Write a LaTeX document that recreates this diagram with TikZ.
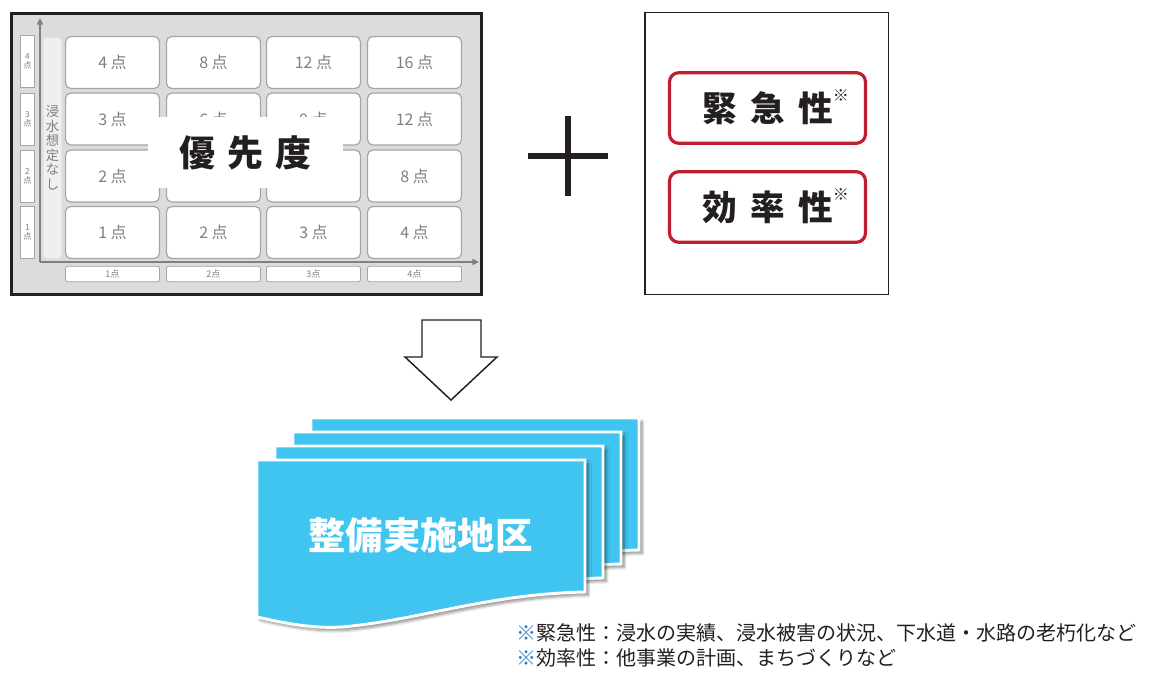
\documentclass[tikz,border=0pt]{standalone}
\usepackage{fontspec}
\setmainfont{Noto Sans CJK JP}
\usetikzlibrary{shadows,shadows.blur,arrows.meta}
\definecolor{frameg}{HTML}{DCDCDD}
\definecolor{cellb}{HTML}{A5A5A7}
\definecolor{cellt}{HTML}{7F7F80}
\definecolor{ink}{HTML}{231F20}
\definecolor{redb}{HTML}{BE1E2D}
\definecolor{sky}{HTML}{40C4F0}
\definecolor{noteblue}{HTML}{2B7BC0}
\definecolor{stripc}{HTML}{EFEFF0}
\begin{document}
\begin{tikzpicture}[x=0.75pt,y=-0.75pt,
  cell/.style={draw=cellb, line width=0.9pt, fill=white, rounded corners=4pt,
    minimum width=70.5pt, minimum height=39pt, inner sep=0pt, text=cellt,
    font=\fontsize{12}{12}\selectfont},
  ylab/.style={draw=cellb, line width=0.6pt, fill=white, minimum width=11pt,
    minimum height=39pt, inner sep=0pt, text=cellt, align=center,
    font=\fontsize{6.2}{6.6}\selectfont},
  xlab/.style={draw=cellb, line width=0.6pt, fill=white, rounded corners=1.5pt,
    minimum width=70.5pt, minimum height=11.5pt, inner sep=0pt, text=cellt,
    font=\fontsize{6.8}{7}\selectfont},
  axisline/.style={draw=black!50, line width=1.1pt, -{Triangle[length=5pt,width=4.5pt]}},
  stripbox/.style={draw=black!12, line width=0.6pt, fill=stripc, rounded corners=3pt,
    minimum width=14pt, minimum height=166pt, inner sep=0pt, text=cellt, align=center,
    font=\fontsize{10}{10.9}\selectfont},
  redbox/.style={draw=redb, line width=2.4pt, rounded corners=7pt, fill=white,
    minimum width=147pt, minimum height=53pt, inner sep=0pt, text=ink,
    font=\fontsize{26}{26}\selectfont\bfseries},
  sheet/.style={fill=sky, draw=white, line width=2.2pt,
    blur shadow={shadow xshift=2.5pt, shadow yshift=-2.5pt, shadow blur steps=6, shadow opacity=45}},
  note/.style={anchor=west, inner sep=0pt, text=ink, font=\fontsize{15}{15}\selectfont}
]
\useasboundingbox (0,0) rectangle (1149,673);

% ---- priority matrix frame ----
\draw[line width=2.6pt, ink, fill=frameg] (11.5,13.5) rectangle (481.5,294.5);

\coordinate (o) at (40,262);
\coordinate (ytip) at (40,18);
\coordinate (xtip) at (479,262);
\draw[axisline] (o) -- (ytip);
\draw[axisline] (o) -- (xtip);

\node[stripbox] (nashi) at (52.5,148) {浸\\水\\想\\定\\な\\し};

% y-axis labels
\node[ylab] (y4) at (27.5,61.5) {4\\点};
\node[ylab] (y3) at (27.5,119.5) {3\\点};
\node[ylab] (y2) at (27.5,176) {2\\点};
\node[ylab] (y1) at (27.5,232) {1\\点};

% x-axis labels
\node[xlab] (x1) at (112.5,274) {1点};
\node[xlab] (x2) at (213.5,274) {2点};
\node[xlab] (x3) at (313.5,274) {3点};
\node[xlab] (x4) at (414.5,274) {4点};

% cells
\node[cell] (c14) at (112.5,62.5) {4 点};
\node[cell] (c24) at (213.5,62.5) {8 点};
\node[cell] (c34) at (313.5,62.5) {12 点};
\node[cell] (c44) at (414.5,62.5) {16 点};
\node[cell] (c13) at (112.5,119) {3 点};
\node[cell] (c23) at (213.5,119) {6 点};
\node[cell] (c33) at (313.5,119) {9 点};
\node[cell] (c43) at (414.5,119) {12 点};
\node[cell] (c12) at (112.5,176) {2 点};
\node[cell] (c22) at (213.5,176) {};
\node[cell] (c32) at (313.5,176) {};
\node[cell] (c42) at (414.5,176) {8 点};
\node[cell] (c11) at (112.5,232.5) {1 点};
\node[cell] (c21) at (213.5,232.5) {2 点};
\node[cell] (c31) at (313.5,232.5) {3 点};
\node[cell] (c41) at (414.5,232.5) {4 点};

% overlay title
\node[fill=white, minimum width=146.25pt, minimum height=53.25pt, inner sep=0pt,
  text=ink, font=\fontsize{27}{27}\selectfont\bfseries] (yusen) at (245.5,152.5)
  {優\hspace{9pt}先\hspace{9pt}度};

% ---- plus sign ----
\coordinate (pl) at (528,156);
\coordinate (pr) at (608,156);
\coordinate (pt) at (568,116);
\coordinate (pb) at (568,196);
\draw[line width=4.5pt, ink] (pl) -- (pr);
\draw[line width=4.5pt, ink] (pt) -- (pb);

% ---- right box ----
\draw[line width=1.3pt, ink] (645,12.5) rectangle (888.5,294.5);
\node[redbox] (kinkyu) at (767.5,108)
  {緊\hspace{10pt}急\hspace{10pt}性\rlap{\smash{\raisebox{15pt}{\fontsize{12}{12}\selectfont\mdseries ※}}}};
\node[redbox] (koritsu) at (767.5,207)
  {効\hspace{10pt}率\hspace{10pt}性\rlap{\smash{\raisebox{15pt}{\fontsize{12}{12}\selectfont\mdseries ※}}}};

% ---- down arrow ----
\draw[line width=1.1pt, ink, fill=white, line join=miter]
  (422,320) -- (481,320) -- (481,357) -- (497,357) -- (451,400) -- (405,357) -- (422,357) -- cycle;

% ---- document stack ----
\foreach \dx/\dy in {54/-42, 36/-28, 18/-14, 0/0}{
  \begin{scope}[shift={(\dx,\dy)}]
    \path[sheet] (257,460) -- (585,460) -- (585,592)
      .. controls (487,594) and (420,620) .. (342,627)
      .. controls (310,629) and (280,622) .. (257,617) -- cycle;
  \end{scope}
}
\node[text=white, inner sep=0pt, font=\fontsize{28}{28}\selectfont\bfseries] (seibi) at (420.5,535) {整備実施地区};

% ---- notes ----
\node[note] (n1) at (516,633) {\textcolor{noteblue}{※}緊急性：浸水の実績、浸水被害の状況、下水道・水路の老朽化など};
\node[note] (n2) at (516,658) {\textcolor{noteblue}{※}効率性：他事業の計画、まちづくりなど};
\end{tikzpicture}
\end{document}
